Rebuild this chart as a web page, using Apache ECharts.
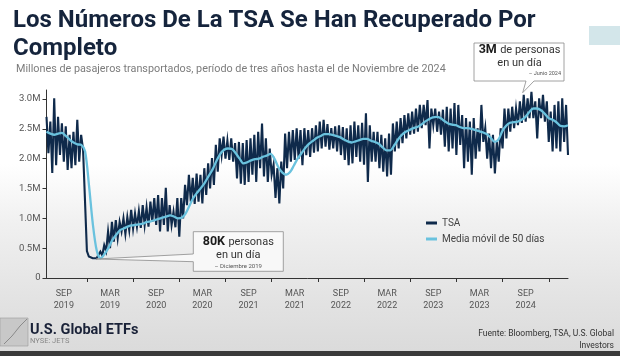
<!DOCTYPE html>
<html><head><meta charset="utf-8">
<script src="https://cdn.jsdelivr.net/npm/echarts@6/dist/echarts.min.js"></script>
<style>
html,body{margin:0;padding:0;}
#c{width:620px;height:356px;background:linear-gradient(to bottom,#ffffff 0%,#ffffff 46%,#f0f0f0 63%,#e4e4e4 82%,#dadada 100%);}
</style>
</head><body><div id="c"></div>
<script>
// X-axis tick labels (as printed on the reference)
const xLabels = ['SEP\n2019','MAR\n2019','SEP\n2020','MAR\n2020','SEP\n2021','MAR\n2021','SEP\n2022','MAR\n2022','SEP\n2023','MAR\n2023','SEP\n2024'];
// Y-axis ticks (millions)
const yTicks = [0, 0.5, 1.0, 1.5, 2.0, 2.5, 3.0];
// TSA daily throughput, per half-month: high and low of the daily range (millions)
const tsaHigh = [
 2.70,2.62,3.01,2.70,2.59,2.54,2.40,2.45,2.65,2.40,
 2.18,0.36,0.33,0.33,0.44,0.55,0.78,0.94,0.97,0.94,
 1.00,1.02,1.14,1.08,1.12,1.22,1.18,1.28,1.34,1.39,
 1.34,1.51,1.22,1.11,1.34,1.34,1.56,1.73,1.68,1.75,
 1.73,1.84,1.92,2.01,2.23,2.34,2.37,2.30,2.34,2.26,
 2.28,2.26,2.31,2.34,2.40,2.45,2.59,2.34,2.17,1.90,
 1.84,1.95,2.42,2.45,2.48,2.51,2.48,2.51,2.48,2.51,
 2.56,2.62,2.65,2.58,2.51,2.54,2.56,2.53,2.51,2.56,
 2.62,2.56,2.60,2.76,2.56,2.45,2.45,2.40,2.34,2.42,
 2.59,2.62,2.68,2.73,2.76,2.79,2.84,2.90,2.90,2.98,
 2.84,2.84,2.79,2.82,2.87,2.84,2.93,2.90,2.73,2.68,
 2.62,2.68,2.51,2.90,2.51,2.42,2.40,2.28,2.51,2.84,
 2.84,2.87,2.84,2.96,3.07,3.01,3.12,2.96,3.01,3.07,
 2.96,2.79,2.90,2.96,3.01,2.90];
const tsaLow = [
 2.09,1.76,1.89,2.06,1.95,1.81,1.84,1.89,1.95,2.15,
 0.45,0.33,0.31,0.32,0.38,0.45,0.50,0.61,0.67,0.78,
 0.74,0.80,0.83,0.86,0.84,0.89,0.86,0.94,0.89,0.78,
 0.89,0.78,0.89,0.85,0.69,1.00,1.22,1.28,1.24,1.28,
 1.25,1.39,1.50,1.56,1.78,2.06,2.00,1.98,1.95,1.67,
 1.58,1.56,1.61,1.73,1.61,1.84,1.70,1.61,1.73,1.34,
 1.25,1.50,1.84,1.95,1.98,2.00,1.89,2.06,2.03,2.10,
 2.12,2.17,2.20,2.15,2.17,2.12,2.06,1.98,1.89,1.92,
 2.03,1.95,1.90,1.61,1.95,1.95,1.84,1.78,1.70,1.73,
 2.12,2.17,2.26,2.34,2.40,2.42,2.45,2.51,2.56,2.17,
 2.56,2.45,2.40,2.20,2.12,2.17,2.06,2.23,1.84,1.95,
 1.73,2.00,2.12,2.28,2.00,1.84,1.75,1.95,2.17,2.34,
 2.45,2.51,2.56,2.60,2.62,2.68,2.68,2.34,2.68,2.62,
 2.28,2.12,2.17,2.12,2.28,2.06];
// 50-day moving average, per half-month (millions)
const ma50 = [
 2.45,2.42,2.40,2.42,2.43,2.38,2.32,2.27,2.24,2.23,
 2.12,1.55,0.90,0.46,0.33,0.40,0.50,0.63,0.72,0.80,
 0.83,0.86,0.88,0.89,0.90,0.91,0.94,0.95,0.97,0.99,
 1.01,1.03,1.05,1.03,1.00,1.01,1.08,1.21,1.34,1.43,
 1.51,1.60,1.71,1.82,1.96,2.08,2.15,2.17,2.16,2.09,
 2.00,1.92,1.94,1.97,1.99,2.00,2.03,2.05,2.08,2.00,
 1.86,1.77,1.73,1.77,1.88,2.00,2.09,2.18,2.25,2.30,
 2.35,2.38,2.41,2.41,2.40,2.38,2.36,2.32,2.29,2.27,
 2.29,2.31,2.33,2.33,2.30,2.28,2.25,2.19,2.14,2.14,
 2.22,2.32,2.40,2.45,2.48,2.51,2.53,2.57,2.62,2.66,
 2.69,2.70,2.68,2.63,2.59,2.57,2.56,2.53,2.51,2.51,
 2.50,2.48,2.46,2.44,2.41,2.35,2.28,2.32,2.46,2.55,
 2.60,2.61,2.62,2.65,2.70,2.78,2.84,2.84,2.81,2.75,
 2.68,2.65,2.61,2.55,2.54,2.56];

const tsaSeries = [];
tsaHigh.forEach((h, i) => { tsaSeries.push(h, tsaLow[i]); });
const tsaCats = tsaSeries.map((_, i) => String(i));
const maCats = ma50.map((_, i) => String(i));
const TICK0 = 21, LAB0 = 9, STEP = 24;

const chart = echarts.init(document.getElementById('c'), null, {renderer: 'canvas'});
const navy = '#0f2a4b', light = '#6ac2de', fam = 'Roboto, "Noto Sans", sans-serif';

chart.setOption({
  animation: false,
  textStyle: {fontFamily: fam},
  title: [
    {text: 'Los Números De La TSA Se Han Recuperado Por\nCompleto', left: 13, top: 7, padding: 0,
     textStyle: {fontSize: 24, fontWeight: 'bold', color: '#15243c', lineHeight: 28, fontFamily: fam}},
    {text: 'Millones de pasajeros transportados, período de tres años hasta el de Noviembre de 2024', left: 16, top: 64, padding: 0,
     textStyle: {fontSize: 10.8, fontWeight: 'normal', color: '#7c7c7c', fontFamily: fam}}
  ],
  grid: {left: 46.5, right: 52, top: 90, bottom: 78, containLabel: false},
  legend: {
    orient: 'vertical', left: 421, top: 213, itemWidth: 11, itemHeight: 3, icon: 'rect', itemGap: 6,
    textStyle: {fontSize: 10, color: '#444', fontFamily: fam},
    data: ['TSA', 'Media móvil de 50 días']
  },
  xAxis: [
    {type: 'category', data: tsaCats, boundaryGap: false,
     axisLine: {lineStyle: {color: '#333', width: 1}},
     axisTick: {interval: (i) => i >= TICK0 && (i - TICK0) % STEP === 0, length: 4, lineStyle: {color: '#333'}},
     axisLabel: {interval: (i) => i >= LAB0 && (i - LAB0) % STEP === 0 && (i - LAB0) / STEP < xLabels.length,
       formatter: (v, i) => xLabels[(i - LAB0) / STEP] || '', color: '#555', fontSize: 9, lineHeight: 12, margin: 10},
     splitLine: {show: false}},
    {type: 'category', data: maCats, boundaryGap: false, show: false}
  ],
  yAxis: {
    type: 'value', min: 0, max: 3.15, interval: 0.5,
    axisLine: {show: true, lineStyle: {color: '#333', width: 1}},
    axisTick: {show: true, length: 4, lineStyle: {color: '#333'}, customValues: yTicks},
    axisLabel: {color: '#555', fontSize: 9.5, margin: 6, customValues: yTicks,
      formatter: (v) => yTicks.includes(v) ? (v === 0 ? '0' : v.toFixed(1) + 'M') : ''},
    splitLine: {show: false}
  },
  series: [
    {name: 'TSA', type: 'line', xAxisIndex: 0, data: tsaSeries, symbol: 'none', color: navy,
     lineStyle: {color: navy, width: 2.1, join: 'miter'}, z: 2},
    {name: 'Media móvil de 50 días', type: 'line', xAxisIndex: 1, data: ma50, symbol: 'none', smooth: 0.3, color: light,
     lineStyle: {color: light, width: 2.3}, z: 3}
  ],
  graphic: [
    {type: 'rect', shape: {x: 589, y: 26, width: 31, height: 19}, style: {fill: '#d3e6ea'}},
    {type: 'polygon', shape: {points: [[474,43],[564,43],[564,81],[534,81],[522.7,92.7],[526,81],[474,81]]},
     style: {fill: '#ffffff', stroke: '#8a8a8a', lineWidth: 0.8}, z: 20},
    {type: 'text', x: 519.5, y: 50, z: 21, style: {text: '{b|3M} {r|de personas}', align: 'center', verticalAlign: 'middle',
      rich: {b: {fontSize: 12.5, fontWeight: 'bold', fill: '#1b1b1b', fontFamily: fam}, r: {fontSize: 11, fill: '#333', fontFamily: fam}}}},
    {type: 'text', x: 519.5, y: 63.5, z: 21, style: {text: 'en un día', align: 'center', verticalAlign: 'middle', fontSize: 11, fill: '#333', fontFamily: fam}},
    {type: 'text', x: 561, y: 74, z: 21, style: {text: '– Junio 2024', align: 'right', verticalAlign: 'middle', fontSize: 5.5, fill: '#555', fontFamily: fam}},
    {type: 'polygon', shape: {points: [[193.3,231.7],[283.3,231.7],[283.3,271.3],[193.3,271.3],[193.3,261.7],[96,259],[193.3,254]]},
     style: {fill: 'rgba(250,250,250,0.85)', stroke: '#8a8a8a', lineWidth: 0.8}, z: 20},
    {type: 'text', x: 238.3, y: 242, z: 21, style: {text: '{b|80K} {r|personas}', align: 'center', verticalAlign: 'middle',
      rich: {b: {fontSize: 12.5, fontWeight: 'bold', fill: '#1b1b1b', fontFamily: fam}, r: {fontSize: 11, fill: '#333', fontFamily: fam}}}},
    {type: 'text', x: 238.3, y: 255.5, z: 21, style: {text: 'en un día', align: 'center', verticalAlign: 'middle', fontSize: 11, fill: '#333', fontFamily: fam}},
    {type: 'text', x: 238.3, y: 266.5, z: 21, style: {text: '– Diciembre 2019', align: 'center', verticalAlign: 'middle', fontSize: 6, fill: '#555', fontFamily: fam}},
    {type: 'rect', shape: {x: 0, y: 318, width: 28, height: 28}, style: {fill: '#c8c8c8', stroke: '#9a9a9a', lineWidth: 0.6}},
    {type: 'polyline', shape: {points: [[4,344],[12,336],[20,326],[27,319]]}, style: {stroke: '#8a8a8a', lineWidth: 1, fill: 'none'}},
    {type: 'text', x: 30, y: 330, style: {text: 'U.S. Global ETFs', verticalAlign: 'middle', fontSize: 14.5, fontWeight: 'bold', fill: '#1a2238', fontFamily: fam}},
    {type: 'text', x: 30, y: 341, style: {text: 'NYSE: JETS', verticalAlign: 'middle', fontSize: 7.5, fill: '#888', fontFamily: fam}},
    {type: 'text', x: 614, y: 334, style: {text: 'Fuente: Bloomberg, TSA, U.S. Global', align: 'right', verticalAlign: 'middle', fontSize: 8.5, fill: '#333', fontFamily: fam}},
    {type: 'text', x: 614, y: 345.5, style: {text: 'Investors', align: 'right', verticalAlign: 'middle', fontSize: 8.5, fill: '#333', fontFamily: fam}},
    {type: 'rect', shape: {x: 0, y: 351, width: 620, height: 5}, style: {fill: '#3a3a3a'}}
  ]
});
</script>
</body></html>
